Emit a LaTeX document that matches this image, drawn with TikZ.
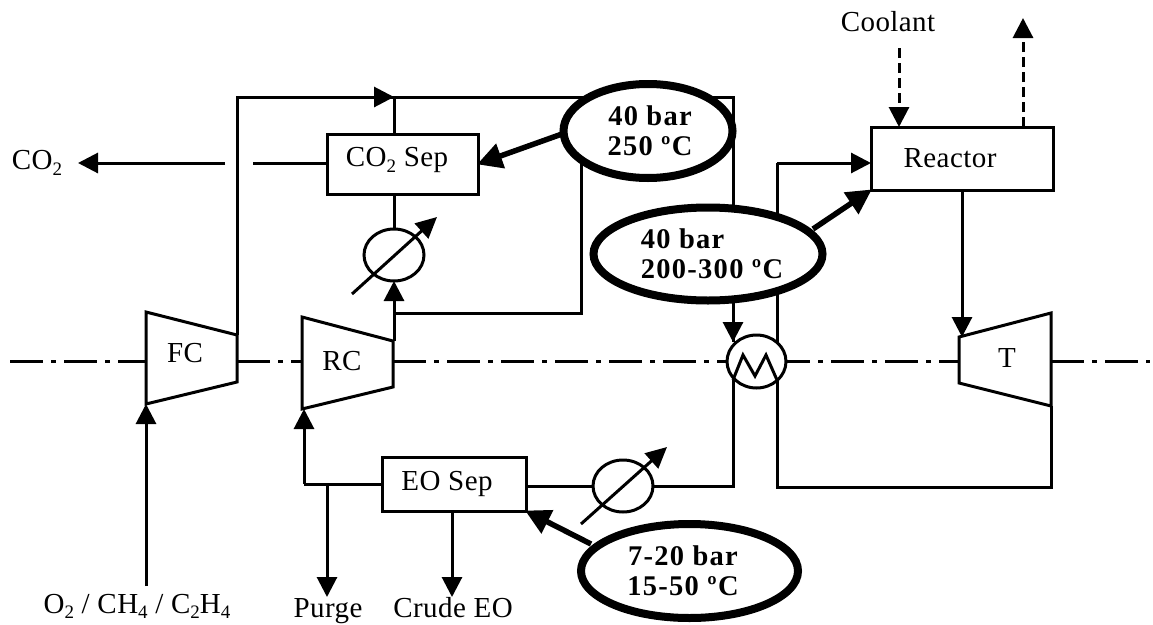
\documentclass[tikz,border=0pt]{standalone}
\usepackage{fontspec}
\setmainfont{Liberation Serif}[LetterSpace=1.5]
\newfontfamily\condfont{Liberation Serif}[LetterSpace=4.5,BoldFont={Liberation Serif Bold}]
\usetikzlibrary{arrows.meta,shapes.geometric}
\newcommand{\sbs}[1]{\raisebox{-0.2em}{\fontsize{19}{19}\selectfont #1}}
\tikzset{
  x=1pt,y=-1pt,
  ln/.style={line width=3pt,draw=black,line join=miter},
  flow/.style={ln,-{Triangle[length=20pt,width=20pt]}},
  dflow/.style={flow,dash pattern=on 10pt off 5pt},
  heavy/.style={line width=5.5pt,-{Triangle[length=25pt,width=25pt]},shorten >=-1pt},
  adj/.style={ln,-{Triangle[length=21pt,width=20pt]}},
  shaft/.style={ln,dash pattern=on 33pt off 8pt on 5pt off 8pt},
  lbl/.style={font=\fontsize{29}{32}\selectfont,inner sep=0pt},
  box/.style={rectangle,ln,fill=white,inner sep=0pt,outer sep=0pt},
  cond/.style={ellipse,line width=8pt,draw=black,fill=white,inner sep=0pt,outer sep=0pt,
     font=\fontsize{28.5}{30}\selectfont\condfont\bfseries},
  cool/.style={ellipse,ln,fill=white,inner sep=0pt,outer sep=0pt,minimum width=60pt,minimum height=52pt},
  hex/.style={ellipse,ln,fill=white,inner sep=0pt,outer sep=0pt,minimum width=59pt,minimum height=53pt},
}
\begin{document}
\begin{tikzpicture}
\useasboundingbox (0,0) rectangle (1153,624);
% coordinates
\coordinate (sL) at (10,361);
\coordinate (sR) at (1150,361);
\coordinate (fcTL) at (146,312); \coordinate (fcTR) at (237,335);
\coordinate (fcBR) at (237,382); \coordinate (fcBL) at (146,404);
\coordinate (fcL) at (146,361); \coordinate (fcR) at (237,361);
\coordinate (rcTL) at (302,317); \coordinate (rcTR) at (393,341);
\coordinate (rcBR) at (393,387); \coordinate (rcBL) at (302,409);
\coordinate (rcL) at (302,361); \coordinate (rcR) at (393,361);
\coordinate (tTL) at (959,337); \coordinate (tTR) at (1051,313);
\coordinate (tBR) at (1051,406); \coordinate (tBL) at (959,383);
\coordinate (tL) at (959,361); \coordinate (tR) at (1051,361);
\coordinate (top) at (394,97);
\coordinate (topR) at (733,97);
\coordinate (fcUp) at (237,97);
\coordinate (hexIn) at (733,342);
\coordinate (hexOutA) at (733,380);
\coordinate (hexA) at (743,355);
\coordinate (hexB) at (755,376);
\coordinate (hexC) at (766,355);
\coordinate (hexD) at (777,380);
\coordinate (hexTopR) at (777,342);
\coordinate (rctIn) at (777,163);
\coordinate (lowR) at (777,487);
\coordinate (lowRR) at (1051,487);
\coordinate (eoR) at (733,486);
\coordinate (branch) at (394,313);
\coordinate (branchR) at (581,313);
\coordinate (branchUp) at (581,160);
\coordinate (rcOut) at (394,341);
\coordinate (sepL) at (327,163);
\coordinate (gapA) at (253,163);
\coordinate (gapB) at (225,163);
\coordinate (co2End) at (78,163);
\coordinate (feedS) at (146,586);
\coordinate (eoL) at (382,484);
\coordinate (eoLc) at (304,484);
\coordinate (purgeT) at (327,484);
\coordinate (purgeB) at (327,597);
\coordinate (crudeB) at (452,597);
\coordinate (coolS) at (899,48);
\coordinate (outE) at (1023,18);
\coordinate (c1a) at (352,294); \coordinate (c1b) at (437,217);
\coordinate (c2a) at (581,524); \coordinate (c2b) at (667,447);
\coordinate (h1s) at (562,134); \coordinate (h2s) at (813,229); \coordinate (h3s) at (591,544);
\coordinate (hexFeed) at (733,300);
\coordinate (tFeed) at (962,190); \coordinate (tFeedE) at (962,337);
\coordinate (rIn) at (871,163);
% shaft
\draw[shaft] (sL) -- (fcL);
\draw[shaft] (fcR) -- (rcL);
\draw[shaft] (rcR) -- (hexOutA|-sL);
\draw[shaft] (hexD|-sL) -- (tL);
\draw[shaft] (tR) -- (sR);
% boxes
\node[box,minimum width=151pt,minimum height=60pt] (co2sep) at (402.5,164) {};
\node[lbl] (co2seplbl) at (397,160) {CO\sbs{2} Sep};
\node[box,minimum width=182pt,minimum height=63pt] (reactor) at (962,158.5) {};
\node[lbl] (reactorlbl) at (950,158) {Reactor};
\node[box,minimum width=144pt,minimum height=54pt] (eosep) at (454,484) {};
\node[lbl] (eolbl) at (447,484) {EO Sep};
% process lines
\draw[ln] (fcTR) -- (fcUp) -- (topR) -- (hexIn);
\draw[flow] (fcUp) -- (top);
\draw[ln] (top) -- (co2sep.north-|top);
\node[cool] (cooler1) at (394,255) {};
\draw[ln] (co2sep.south-|top) -- (cooler1.north);
\draw[flow] (rcOut) -- (cooler1.south);
\draw[ln] (branch) -- (branchR) -- (branchUp);
\draw[ln] (sepL) -- (gapA);
\draw[flow] (gapB) -- (co2End);
\draw[flow] (feedS) -- (fcBL);
\draw[flow] (eoLc) -- (eoLc|-rcBL);
\draw[ln] (eoL) -- (eoLc);
\draw[flow] (purgeT) -- (purgeB);
\draw[flow] (eosep.south-|crudeB) -- (crudeB);
\draw[flow] (rctIn) -- (rIn);
\draw[ln] (rctIn) -- (hexTopR);
\draw[ln] (hexD) -- (lowR) -- (lowRR) -- (tBR);
\draw[flow] (tFeed) -- (tFeedE);
\draw[dflow] (coolS) -- (reactor.north-|coolS);
\draw[dflow] (reactor.north-|outE) -- (outE);
\draw[ln] (hexOutA) -- (eoR) -- (eosep.east|-eoR);
% machines
\draw[ln,fill=white] (fcTL) -- (fcTR) -- (fcBR) -- (fcBL) -- cycle;
\node[lbl] (fc) at (185,353) {FC};
\draw[ln,fill=white] (rcTL) -- (rcTR) -- (rcBR) -- (rcBL) -- cycle;
\node[lbl] (rc) at (342,361) {RC};
\draw[ln,fill=white] (tTL) -- (tTR) -- (tBR) -- (tBL) -- cycle;
\node[lbl] (t) at (1007,358) {T};
% heat exchanger
\node[hex] (hx) at (756.5,361.5) {};
\draw[ln] (hexOutA) -- (hexA) -- (hexB) -- (hexC) -- (hexD);
\draw[flow] (hexFeed) -- (hexIn);
% cooler 2
\node[cool] (cooler2) at (623,486) {};
\draw[adj] (c1a) -- (c1b);
\draw[adj] (c2a) -- (c2b);
% condition ellipses
\node[cond,minimum width=169pt,minimum height=94pt,align=center] (e1) at (648,131) {\hspace*{4pt}40 bar\\\hspace*{4pt}250 ºC};
\node[cond,minimum width=229pt,minimum height=93pt,align=left] (e2) at (708,254) {\hspace*{8pt}40 bar\\\hspace*{8pt}200-300 ºC};
\node[cond,minimum width=217pt,minimum height=94pt,align=center] (e3) at (689.5,571) {7-20 bar\hspace*{13pt}\\15-50 ºC\hspace*{13pt}};
\draw[heavy] (h1s) -- (co2sep.east);
\draw[heavy] (h2s) -- (reactor.south west);
\draw[heavy] (h3s) -- (eosep.south east);
% labels
\node[lbl] (coolant) at (888,22) {Coolant};
\node[lbl] (co2) at (37,163) {CO\sbs{2}};
\node[lbl,anchor=base] (feed) at (137,613) {O\sbs{2} / CH\sbs{4} / C\sbs{2}H\sbs{4}};
\node[lbl,anchor=base] (purge) at (328,617) {Purge};
\node[lbl,anchor=base] (crude) at (453,617.5) {Crude EO};
\end{tikzpicture}
\end{document}
